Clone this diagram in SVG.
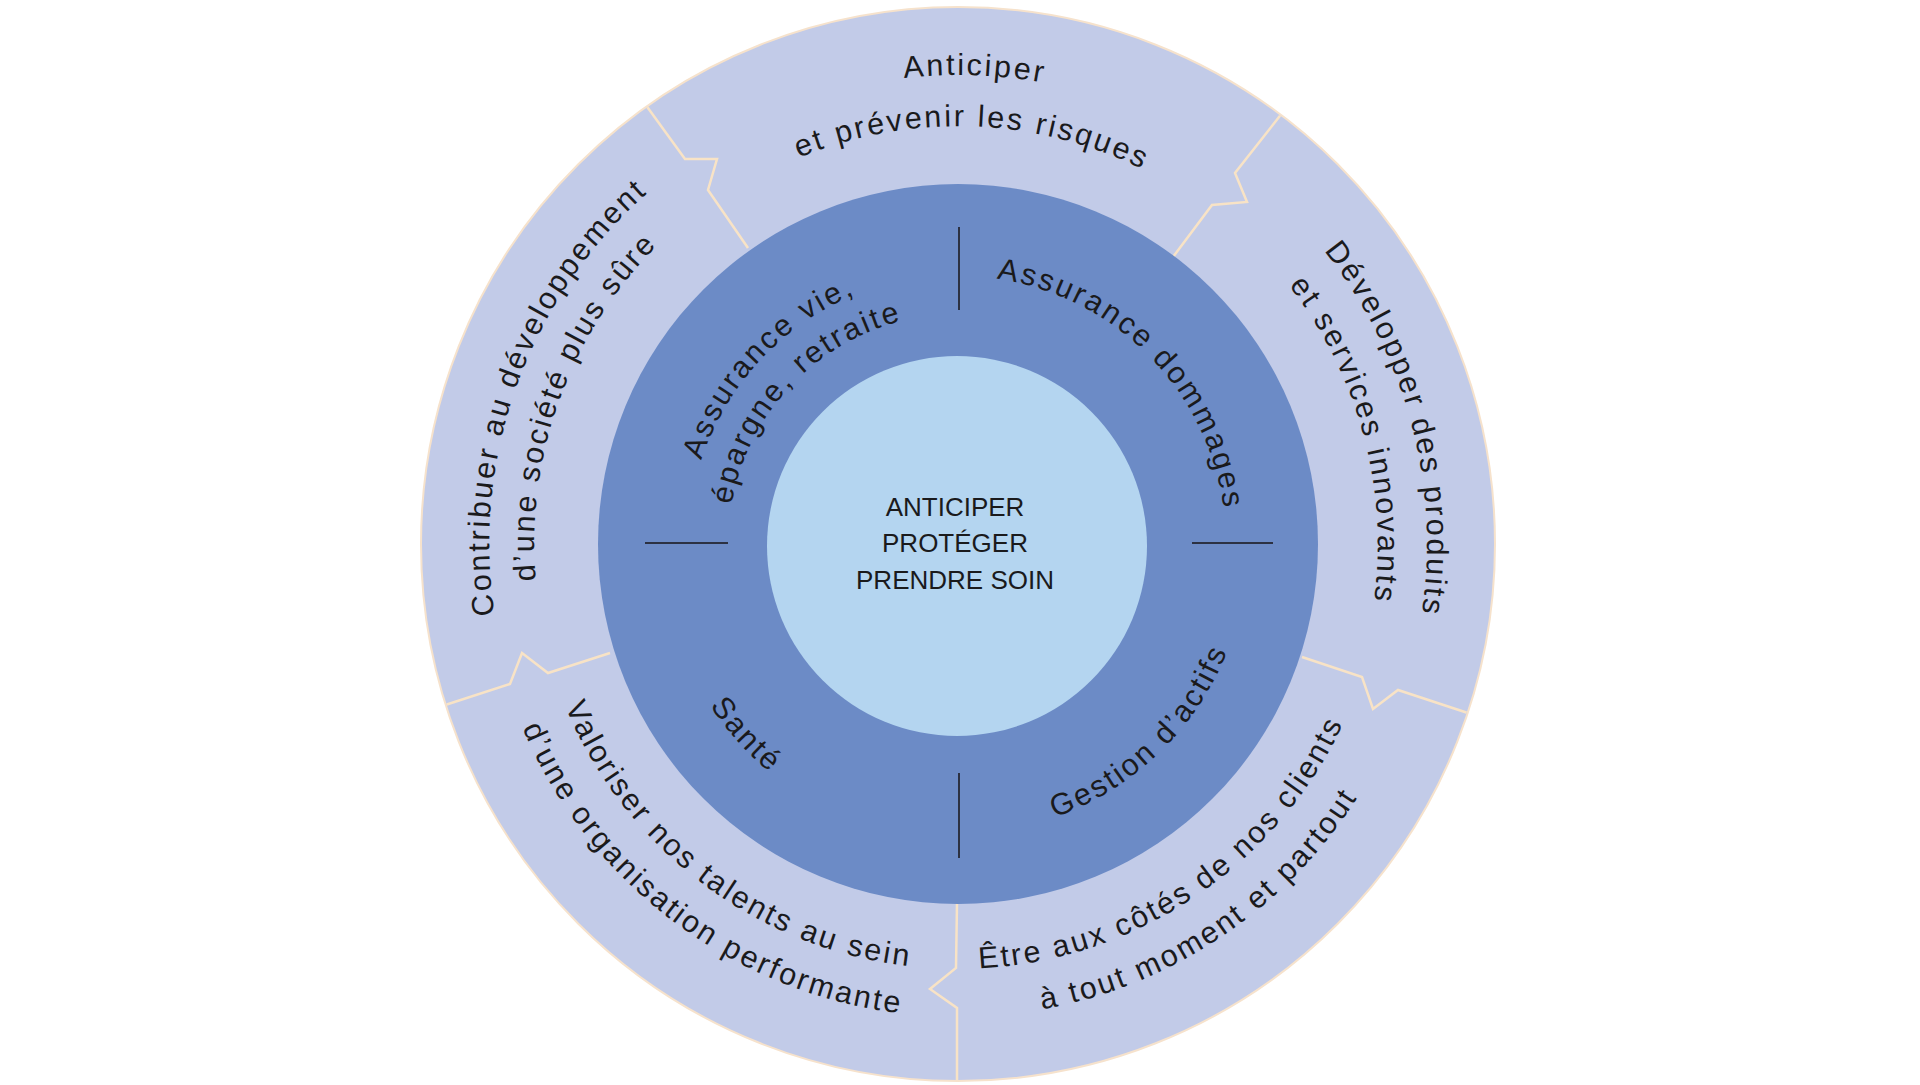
<svg xmlns="http://www.w3.org/2000/svg" width="1920" height="1085" viewBox="0 0 1920 1085">
<style>
.arc{font-family:"Liberation Sans",Arial,sans-serif;font-size:30.5px;letter-spacing:2.5px;fill:#1a1a1c;}
.ctr{font-family:"Liberation Sans",Arial,sans-serif;font-size:26px;fill:#1a1a1c;text-anchor:middle;}
.sep{fill:none;stroke:#f8e3c6;stroke-width:2.5;stroke-linejoin:miter;}
.div{stroke:#2c3142;stroke-width:2;}
</style>
<defs>
<path id="pTop1" d="M489.3,527.6 A468,468 0 0 1 1426.7,560.4"/>
<path id="pTop2" d="M540.3,529.4 A417,417 0 0 1 1375.7,558.6"/>
<path id="pR1" d="M836.6,91 A468,468 0 0 1 1079.4,997"/>
<path id="pR2" d="M849.3,138.3 A419,419 0 0 1 1066.7,949.7"/>
<path id="pL1" d="M797.6,984.7 A468,468 0 0 1 1118.4,103.3"/>
<path id="pL2" d="M813,942.4 A423,423 0 0 1 1103,145.6"/>
<path id="pBR1" d="M605.7,781.7 A424,424 0 0 0 1310.3,306.3"/>
<path id="pBR2" d="M565.9,808.5 A472,472 0 0 0 1350.1,279.5"/>
<path id="pBL1" d="M618.6,288.2 A424,424 0 0 0 1297.4,799.8"/>
<path id="pBL2" d="M580.2,259.3 A472,472 0 0 0 1335.8,828.7"/>
<path id="pIR" d="M770.2,352.8 A267,267 0 0 1 1145.8,735.2"/>
<path id="pIL1" d="M773.9,741.5 A269,269 0 0 1 1142.1,346.5"/>
<path id="pIL2" d="M801.1,712.2 A229,229 0 0 1 1114.9,375.8"/>
<path id="pSante" d="M759.9,324 A295,295 0 0 0 1156.1,764"/>
<path id="pGest" d="M749.4,745.5 A289,289 0 0 0 1166.6,342.5"/>
<clipPath id="outerClip"><circle cx="958" cy="544" r="536"/></clipPath>
</defs>
<rect width="1920" height="1085" fill="#ffffff"/>
<circle id="outer-ring" cx="958" cy="544" r="537" fill="#c2cbe8" stroke="#f6e2cc" stroke-width="2"/>
<g id="connectors" clip-path="url(#outerClip)">
<polyline class="sep" points="640,97 685,159 717,159 708,190 748,248"/>
<polyline class="sep" points="1290,103 1235,173 1247,202 1212,205 1173,257"/>
<polyline class="sep" points="1302,657 1362,677 1373,709 1398,690 1480,717"/>
<polyline class="sep" points="957,903 956,968 930,989 957,1008 957,1085"/>
<polyline class="sep" points="610,653 548,673 522,653 510,684 436,708"/>
</g>
<circle id="inner-ring" cx="958" cy="544" r="360" fill="#6c8bc6"/>
<circle id="core-circle" cx="957" cy="546" r="190" fill="#b4d5f0"/>
<g id="ring-dividers">
<line class="div" x1="959" y1="227" x2="959" y2="310"/>
<line class="div" x1="959" y1="773" x2="959" y2="858"/>
<line class="div" x1="645" y1="543" x2="728" y2="543"/>
<line class="div" x1="1192" y1="543" x2="1273" y2="543"/>
</g>
<g id="center">
<text class="ctr" x="955" y="516">ANTICIPER</text>
<text class="ctr" x="955" y="552">PROTÉGER</text>
<text class="ctr" x="955" y="589">PRENDRE SOIN</text>
</g>
<g id="seg-assurance-vie">
<text class="arc"><textPath href="#pIL1" startOffset="50%" text-anchor="middle">Assurance vie,</textPath></text>
<text class="arc"><textPath href="#pIL2" startOffset="50%" text-anchor="middle">épargne, retraite</textPath></text>
</g>
<g id="seg-assurance-dommages">
<text class="arc"><textPath href="#pIR" startOffset="50%" text-anchor="middle">Assurance dommages</textPath></text>
</g>
<g id="seg-sante">
<text class="arc"><textPath href="#pSante" startOffset="50%" text-anchor="middle">Santé</textPath></text>
</g>
<g id="seg-gestion">
<text class="arc"><textPath href="#pGest" startOffset="50%" text-anchor="middle">Gestion d’actifs</textPath></text>
</g>
<g id="out-anticiper">
<text class="arc"><textPath href="#pTop1" startOffset="50%" text-anchor="middle">Anticiper</textPath></text>
<text class="arc"><textPath href="#pTop2" startOffset="50%" text-anchor="middle">et prévenir les risques</textPath></text>
</g>
<g id="out-developper">
<text class="arc"><textPath href="#pR1" startOffset="50%" text-anchor="middle">Développer des produits</textPath></text>
<text class="arc"><textPath href="#pR2" startOffset="50%" text-anchor="middle">et services innovants</textPath></text>
</g>
<g id="out-etre">
<text class="arc"><textPath href="#pBR1" startOffset="50%" text-anchor="middle">Être aux côtés de nos clients</textPath></text>
<text class="arc"><textPath href="#pBR2" startOffset="50%" text-anchor="middle">à tout moment et partout</textPath></text>
</g>
<g id="out-valoriser">
<text class="arc"><textPath href="#pBL1" startOffset="50%" text-anchor="middle">Valoriser nos talents au sein</textPath></text>
<text class="arc"><textPath href="#pBL2" startOffset="50%" text-anchor="middle">d’une organisation performante</textPath></text>
</g>
<g id="out-contribuer">
<text class="arc"><textPath href="#pL1" startOffset="50%" text-anchor="middle">Contribuer au développement</textPath></text>
<text class="arc"><textPath href="#pL2" startOffset="50%" text-anchor="middle">d’une société plus sûre</textPath></text>
</g>
</svg>
